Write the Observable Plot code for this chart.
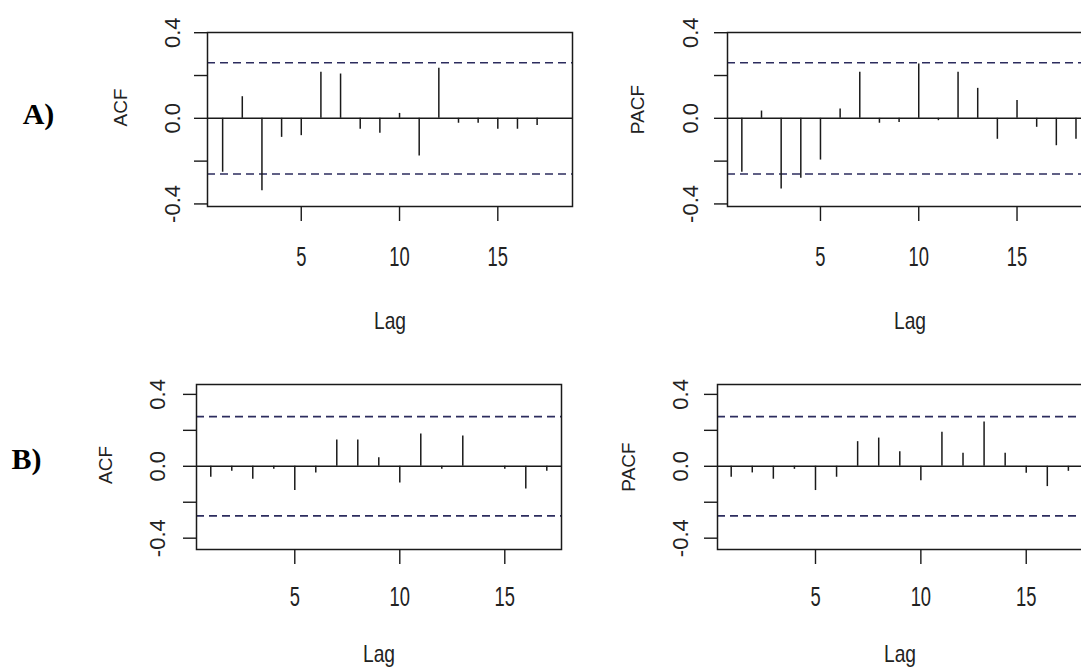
<!DOCTYPE html>
<html>
<head>
<meta charset="utf-8">
<script src="https://cdn.jsdelivr.net/npm/d3@7"></script>
<script src="https://cdn.jsdelivr.net/npm/@observablehq/plot@0.6"></script>
<style>
  html, body { margin: 0; padding: 0; background: #fff; }
  #wrap { position: relative; width: 1081px; height: 671px; overflow: hidden; background: #fff; }
  #wrap > svg { position: absolute; }
</style>
</head>
<body>
<div id="wrap"></div>
<script>
// ---- data ----
const lagsA = [1,2,3,4,5,6,7,8,9,10,11,12,13,14,15,16,17,18];
const acfA  = [-0.252,0.101,-0.338,-0.089,-0.081,0.215,0.207,-0.051,-0.070,0.023,-0.176,0.234,-0.023,-0.023,-0.051,-0.051,-0.033,0.0];
const pacfA = [-0.252,0.034,-0.330,-0.280,-0.195,0.044,0.215,-0.023,-0.020,0.254,-0.011,0.215,0.140,-0.098,0.083,-0.042,-0.128,-0.098];
const lagsB = [1,2,3,4,5,6,7,8,9,10,11,12,13,14,15,16,17];
const acfB  = [-0.061,-0.028,-0.072,-0.017,-0.135,-0.037,0.146,0.146,0.048,-0.093,0.180,-0.017,0.168,0.0,-0.017,-0.126,-0.028];
const pacfB = [-0.061,-0.037,-0.072,-0.017,-0.135,-0.061,0.137,0.157,0.081,-0.080,0.189,0.072,0.246,0.072,-0.039,-0.113,-0.028];
const ciA = 0.26;
const ciB = 0.276;
const xTickValues = [5, 10, 15];
const yTickValues = [-0.4, -0.2, 0, 0.2, 0.4];
const yLabelValues = [-0.4, 0, 0.4];
const rowLabels = ["A)", "B)"];

const wrap = document.getElementById("wrap");

function panel(o) {
  const data = o.lags.map((lag, i) => ({lag, v: o.vals[i]}));
  const marks = [
    Plot.ruleY([o.ci, -o.ci], {stroke: "#2c2c5e", strokeDasharray: "8,5", strokeWidth: 1.6}),
    Plot.ruleY([0], {stroke: "#1a1a1a", strokeWidth: 1.4}),
    Plot.ruleX(data, {x: "lag", y1: 0, y2: "v", stroke: "#1a1a1a", strokeWidth: 1.5}),
    Plot.frame({stroke: "#1a1a1a", strokeWidth: 1.5}),
    Plot.axisX({ticks: xTickValues, tickSize: 15, tickFormat: () => "", label: null, stroke: "#1a1a1a", strokeWidth: 1.4}),
    Plot.axisY({ticks: yTickValues, tickSize: 13, tickFormat: () => "", label: null, stroke: "#1a1a1a", strokeWidth: 1.4}),
    Plot.text(xTickValues, {x: d => d, frameAnchor: "bottom", lineAnchor: "middle", dy: o.xlabDy, text: d => String(d), fontSize: 27, fill: "#222", className: "xl"}),
    Plot.text(yLabelValues, {y: d => d, frameAnchor: "left", lineAnchor: "middle", dx: o.ylabDx, rotate: -90, text: d => d.toFixed(1), fontSize: 22, textAnchor: "middle", fill: "#222"}),
    Plot.text([o.ytitle], {frameAnchor: "left", lineAnchor: "middle", dx: o.ytitleDx, dy: o.ytitleDy, rotate: -90, fontSize: 19, textAnchor: "middle", fill: "#222"}),
    Plot.text(["Lag"], {frameAnchor: "bottom", lineAnchor: "middle", dy: o.lagDy, fontSize: 24, fill: "#222", className: "xl2"})
  ];
  if (o.row) {
    marks.push(Plot.text([o.row], {frameAnchor: "left", lineAnchor: "middle", dx: o.rowDx, dy: o.rowDy, fontSize: 30, fontWeight: "bold", fontFamily: "Liberation Serif, Times New Roman, serif", textAnchor: "middle", fill: "#000"}));
  }
  const svg = Plot.plot({
    width: o.width, height: o.height,
    marginLeft: o.ml, marginRight: o.mr, marginTop: o.mt, marginBottom: o.mb,
    x: {domain: o.xdom, axis: null},
    y: {domain: o.ydom, axis: null},
    style: {fontFamily: "Liberation Sans, Arial, sans-serif", background: "transparent", overflow: "visible"},
    marks
  });
  svg.style.left = o.left + "px";
  svg.style.top = o.top + "px";
  wrap.appendChild(svg);
  // condense the x labels (the reference uses a narrow face); keep y offsets untouched
  d3.select(svg).selectAll("g.xl text, g.xl2 text").each(function() {
    const t = d3.select(this);
    const sx = this.parentNode.classList.contains("xl") ? 0.68 : 0.8;
    const xa = t.attr("x");
    if (xa != null && isFinite(+xa)) t.attr("x", (+xa) / sx);
    const tr = t.attr("transform") || "";
    t.attr("transform", tr + ` scale(${sx},1)`);
  });
}

// A) ACF
panel({lags: lagsA, vals: acfA, ci: ciA, xdom: [0.23, 18.8], ydom: [-0.412, 0.401],
  left: 0, top: 0, width: 600, height: 340, ml: 207, mr: 28, mt: 32, mb: 134,
  xlabDy: 51, lagDy: 115, ylabDx: -35, ytitleDx: -87, ytitleDy: -12, ytitle: "ACF",
  row: rowLabels[0], rowDx: -169, rowDy: -5});
// A) PACF
panel({lags: lagsA, vals: pacfA, ci: ciA, xdom: [0.27, 18.84], ydom: [-0.412, 0.401],
  left: 600, top: 0, width: 520, height: 340, ml: 127, mr: 28, mt: 32, mb: 134,
  xlabDy: 51, lagDy: 115, ylabDx: -37, ytitleDx: -90, ytitleDy: -10, ytitle: "PACF"});
// B) ACF
panel({lags: lagsB, vals: acfB, ci: ciB, xdom: [0.32, 17.70], ydom: [-0.463, 0.455],
  left: 0, top: 340, width: 600, height: 331, ml: 196, mr: 39, mt: 44, mb: 122,
  xlabDy: 48, lagDy: 105, ylabDx: -39, ytitleDx: -91, ytitleDy: -2, ytitle: "ACF",
  row: rowLabels[1], rowDx: -170, rowDy: -8});
// B) PACF
panel({lags: lagsB, vals: pacfB, ci: ciB, xdom: [0.35, 17.67], ydom: [-0.463, 0.455],
  left: 600, top: 340, width: 520, height: 331, ml: 117, mr: 38, mt: 44, mb: 122,
  xlabDy: 48, lagDy: 105, ylabDx: -37, ytitleDx: -89, ytitleDy: 0, ytitle: "PACF"});
</script>
</body>
</html>
